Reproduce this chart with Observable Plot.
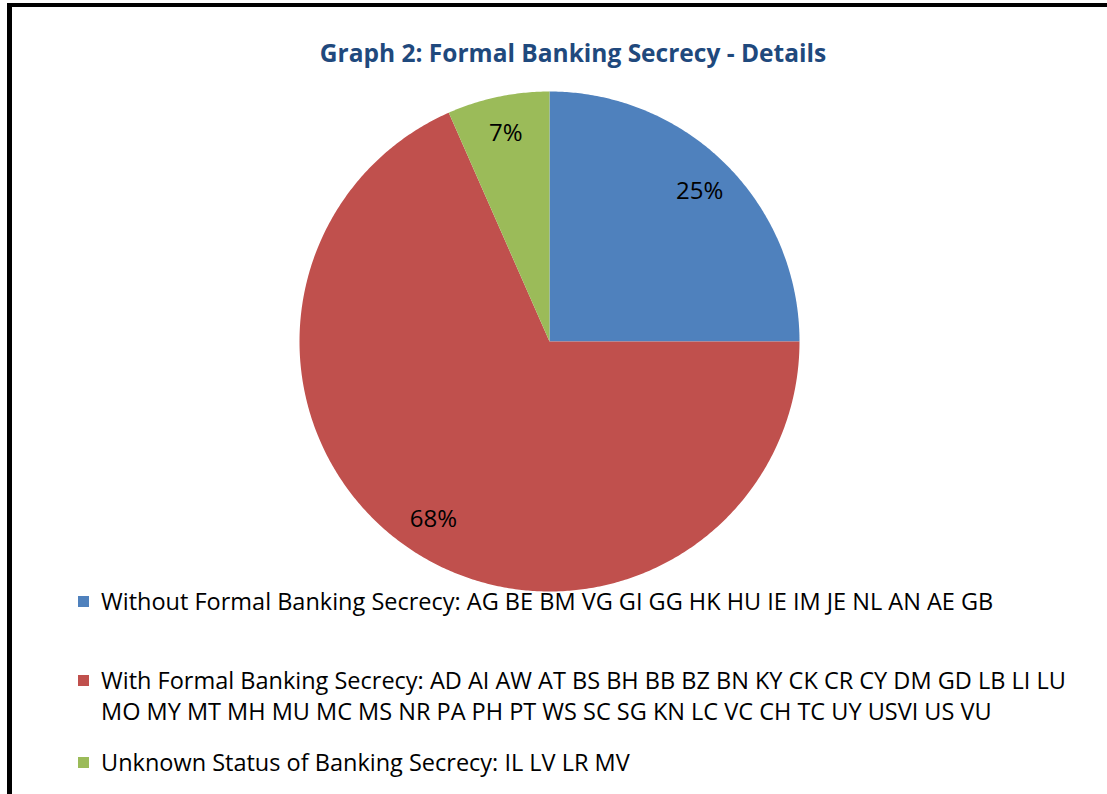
<!DOCTYPE html>
<html>
<head>
<meta charset="utf-8">
<script src="https://cdn.jsdelivr.net/npm/d3@7"></script>
<script src="https://cdn.jsdelivr.net/npm/@observablehq/plot@0.6"></script>
<style>
  html, body { margin: 0; padding: 0; background: #fff; width: 1107px; height: 794px; overflow: hidden; }
  #frame { position: absolute; left: 7px; top: 3px; width: 1200px; height: 900px; border-left: 5px solid #000; border-top: 4px solid #000; }
  #title { position: absolute; left: 0; top: 37px; width: 1146px; text-align: center; font-family: "Open Sans", sans-serif; font-weight: bold; font-size: 24.5px; color: #1F497D; line-height: 32px; }
  #chart { position: absolute; left: 0; top: 80px; }
  #legend { position: absolute; left: 78px; top: 586px; font-family: "Open Sans", sans-serif; font-size: 23.5px; color: #000; }
  .item { position: relative; padding-left: 23px; width: 980px; line-height: 31px; }
  .sw { position: absolute; left: 0; top: 10px; width: 11px; height: 11px; }
</style>
</head>
<body>
<div id="frame"></div>
<div id="title"></div>
<div id="chart"></div>
<div id="legend"></div>
<script>
const title = "Graph 2: Formal Banking Secrecy - Details";
const categories = ["Without Formal Banking Secrecy", "With Formal Banking Secrecy", "Unknown Status of Banking Secrecy"];
const shares = [25, 68.4, 6.6];
const shareLabels = ["25%", "68%", "7%"];
const colors = ["#4F81BD", "#C0504D", "#9BBB59"];
const codesWithout = ["AG","BE","BM","VG","GI","GG","HK","HU","IE","IM","JE","NL","AN","AE","GB"];
const codesWith = ["AD","AI","AW","AT","BS","BH","BB","BZ","BN","KY","CK","CR","CY","DM","GD","LB","LI","LU","MO","MY","MT","MH","MU","MC","MS","NR","PA","PH","PT","WS","SC","SG","KN","LC","VC","CH","TC","UY","USVI","US","VU"];
const codesUnknown = ["IL","LV","LR","MV"];
const codeLists = [codesWithout, codesWith, codesUnknown];
const legendGaps = [48, 20, 0];

// Pie geometry from data
const arcs = d3.pie().sort(null).value(d => d.value)(categories.map((c, i) => ({category: c, value: shares[i], label: shareLabels[i]})));
const wedgePts = [];
for (const a of arcs) {
  wedgePts.push({category: a.data.category, x: 0, y: 0});
  const n = Math.max(2, Math.ceil((a.endAngle - a.startAngle) / (Math.PI / 360)));
  for (let k = 0; k <= n; k++) {
    const t = a.startAngle + (a.endAngle - a.startAngle) * k / n;
    wedgePts.push({category: a.data.category, x: Math.sin(t), y: Math.cos(t)});
  }
  wedgePts.push({category: a.data.category, x: 0, y: 0});
}
const labelR = 0.85;
const labelPts = arcs.map(a => {
  const m = (a.startAngle + a.endAngle) / 2;
  return {label: a.data.label, x: labelR * Math.sin(m), y: labelR * Math.cos(m)};
});

const W = 1107, H = 522, R = 250, CX = 549, CY = 261;
const chart = Plot.plot({
  width: W, height: H, margin: 0,
  x: {domain: [-CX / R, (W - CX) / R], axis: null},
  y: {domain: [-(H - CY) / R, CY / R], axis: null},
  color: {domain: categories, range: colors},
  style: {background: "transparent", overflow: "visible"},
  marks: [
    Plot.line(wedgePts, {x: "x", y: "y", z: "category", fill: "category", stroke: null, curve: "linear"}),
    Plot.text(labelPts, {x: "x", y: "y", text: "label", fontSize: 24, fill: "#000", fontFamily: "'Open Sans', sans-serif"})
  ]
});
document.getElementById("chart").appendChild(chart);
document.getElementById("title").textContent = title;

const legend = document.getElementById("legend");
categories.forEach((c, i) => {
  const div = document.createElement("div");
  div.className = "item";
  div.style.marginBottom = legendGaps[i] + "px";
  const sw = document.createElement("span");
  sw.className = "sw";
  sw.style.background = colors[i];
  div.appendChild(sw);
  div.appendChild(document.createTextNode(c + ": " + codeLists[i].join(" ")));
  legend.appendChild(div);
});
</script>
</body>
</html>
